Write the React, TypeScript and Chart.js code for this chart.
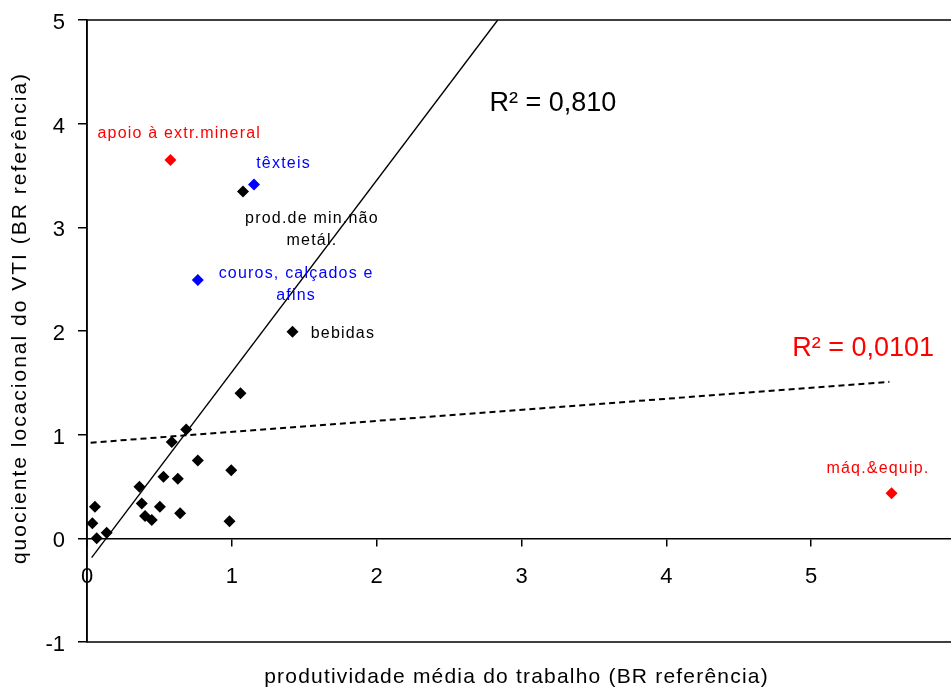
import React, { useEffect, useRef } from 'react';
import { Chart, registerables } from 'chart.js';

Chart.register(...registerables);

// ---- data ----
const blackX = [0.037, 0.055, 0.067, 0.136, 0.362, 0.378, 0.401, 0.447, 0.503, 0.528, 0.585, 0.627, 0.643, 0.685, 0.765, 0.984, 0.996, 1.06, 1.077, 1.419];
const blackY = [0.145, 0.305, 0.0, 0.055, 0.498, 0.337, 0.215, 0.177, 0.305, 0.595, 0.93, 0.575, 0.241, 1.05, 0.75, 0.164, 0.656, 1.4, 3.346, 1.993];
const redX = [0.576, 5.555];
const redY = [3.65, 0.434];
const blueX = [1.153, 0.765];
const blueY = [3.414, 2.491];

// trend lines (end points)
const trendSolidX = [0.032, 2.836];
const trendSolidY = [-0.186, 5.0];
const trendDashX = [0.025, 5.54];
const trendDashY = [0.923, 1.51];

// axes
const xMin = 0;
const xMax = 6;
const yMin = -1;
const yMax = 5;
const xTitle = 'produtividade média do trabalho (BR referência)';
const yTitle = 'quociente locacional do VTI (BR referência)';

// annotations (anchored in data coordinates)
const labelTexts = [
  'apoio à extr.mineral',
  'têxteis',
  'prod.de min.não\nmetál.',
  'couros, calçados e\nafins',
  'bebidas',
  'máq.&equip.',
  'R² = 0,810',
  'R² = 0,0101',
];
const labelX = [0.637, 1.357, 1.553, 1.444, 1.767, 5.461, 3.217, 5.359];
const labelY = [3.857, 3.575, 3.044, 2.514, 1.935, 0.627, 4.127, 1.758];
const labelColors = ['#ff0000', '#0000ff', '#000000', '#0000ff', '#000000', '#ff0000', '#000000', '#ff0000'];
const labelSizes = [16, 16, 16, 16, 16, 16, 27, 27];

const FONT = "'Liberation Sans', Arial, Helvetica, sans-serif";

const toPoints = (xs: number[], ys: number[]) => xs.map((x, i) => ({ x, y: ys[i] }));

const framePlugin = {
  id: 'frame',
  beforeDatasetsDraw(chart: any) {
    const { ctx, chartArea } = chart;
    ctx.save();
    ctx.strokeStyle = '#000';
    ctx.lineWidth = 1.5;
    ctx.strokeRect(chartArea.left, chartArea.top, chartArea.right - chartArea.left, chartArea.bottom - chartArea.top);
    ctx.restore();
  },
};

const annotationPlugin = {
  id: 'annotations',
  afterDatasetsDraw(chart: any) {
    const { ctx, chartArea } = chart;
    const xs = chart.scales.x;
    const ys = chart.scales.y;
    ctx.save();
    ctx.textAlign = 'center';
    ctx.textBaseline = 'alphabetic';
    labelTexts.forEach((t, i) => {
      const px = xs.getPixelForValue(labelX[i]);
      const py = ys.getPixelForValue(labelY[i]);
      const size = labelSizes[i];
      ctx.font = `${size}px ${FONT}`;
      (ctx as any).letterSpacing = size < 20 ? '1.2px' : '0px';
      ctx.fillStyle = labelColors[i];
      t.split('\n').forEach((line, j) => {
        ctx.fillText(line, px, py + j * 22);
      });
    });
    // axis titles
    ctx.fillStyle = '#000';
    ctx.font = `21px ${FONT}`;
    (ctx as any).letterSpacing = '1.2px';
    ctx.fillText(xTitle, (chartArea.left + chartArea.right) / 2 - 5, chartArea.bottom + 41);
    (ctx as any).letterSpacing = '2px';
    ctx.translate(26, 318);
    ctx.rotate(-Math.PI / 2);
    ctx.fillText(yTitle, 0, 0);
    ctx.restore();
  },
};

export default function App() {
  const ref = useRef<HTMLCanvasElement>(null);
  useEffect(() => {
    if (!ref.current) return;
    const chart = new Chart(ref.current, {
      type: 'scatter',
      data: {
        datasets: [
          {
            data: toPoints(blackX, blackY),
            backgroundColor: '#000',
            borderColor: '#000',
            pointStyle: 'rectRot',
            pointRadius: 6,
            borderWidth: 0,
          },
          {
            data: toPoints(redX, redY),
            backgroundColor: '#ff0000',
            borderColor: '#ff0000',
            pointStyle: 'rectRot',
            pointRadius: 6,
            borderWidth: 0,
          },
          {
            data: toPoints(blueX, blueY),
            backgroundColor: '#0000ff',
            borderColor: '#0000ff',
            pointStyle: 'rectRot',
            pointRadius: 6,
            borderWidth: 0,
          },
          {
            data: toPoints(trendSolidX, trendSolidY),
            showLine: true,
            borderColor: '#000',
            borderWidth: 1.4,
            pointRadius: 0,
          },
          {
            data: toPoints(trendDashX, trendDashY),
            showLine: true,
            borderColor: '#000',
            borderWidth: 2,
            borderDash: [6, 4],
            pointRadius: 0,
          },
        ],
      },
      options: {
        animation: false,
        responsive: false,
        events: [],
        layout: { padding: { top: 20, right: 19, bottom: 48, left: 0 } },
        plugins: { legend: { display: false }, tooltip: { enabled: false } },
        scales: {
          x: {
            type: 'linear',
            position: { y: 0 } as any,
            min: xMin,
            max: xMax,
            ticks: { stepSize: 1, color: '#000', font: { size: 22, family: FONT }, padding: 18, maxRotation: 0 },
            grid: { display: true, drawOnChartArea: false, drawTicks: true, tickLength: 7, color: '#000', lineWidth: 1.5 },
            border: { display: true, color: '#000', width: 1.5 },
            afterFit: (s: any) => {
              s.paddingLeft = 0;
              s.paddingRight = 0;
            },
          },
          y: {
            type: 'linear',
            min: yMin,
            max: yMax,
            ticks: { stepSize: 1, color: '#000', font: { size: 22, family: FONT }, padding: 13, labelOffset: 3 },
            grid: { display: true, drawOnChartArea: false, drawTicks: true, tickLength: 9, color: '#000', lineWidth: 1.5 },
            border: { display: true, color: '#000', width: 1.5 },
            afterFit: (s: any) => {
              s.width = 87;
              s.paddingTop = 0;
              s.paddingBottom = 0;
            },
          },
        },
      },
      plugins: [framePlugin, annotationPlugin],
    });
    return () => chart.destroy();
  }, []);
  return (
    <div style={{ position: 'absolute', left: 0, top: 0, width: 951, height: 690, overflow: 'hidden', background: '#fff' }}>
      <canvas ref={ref} width={975} height={690} style={{ display: 'block' }} />
    </div>
  );
}
